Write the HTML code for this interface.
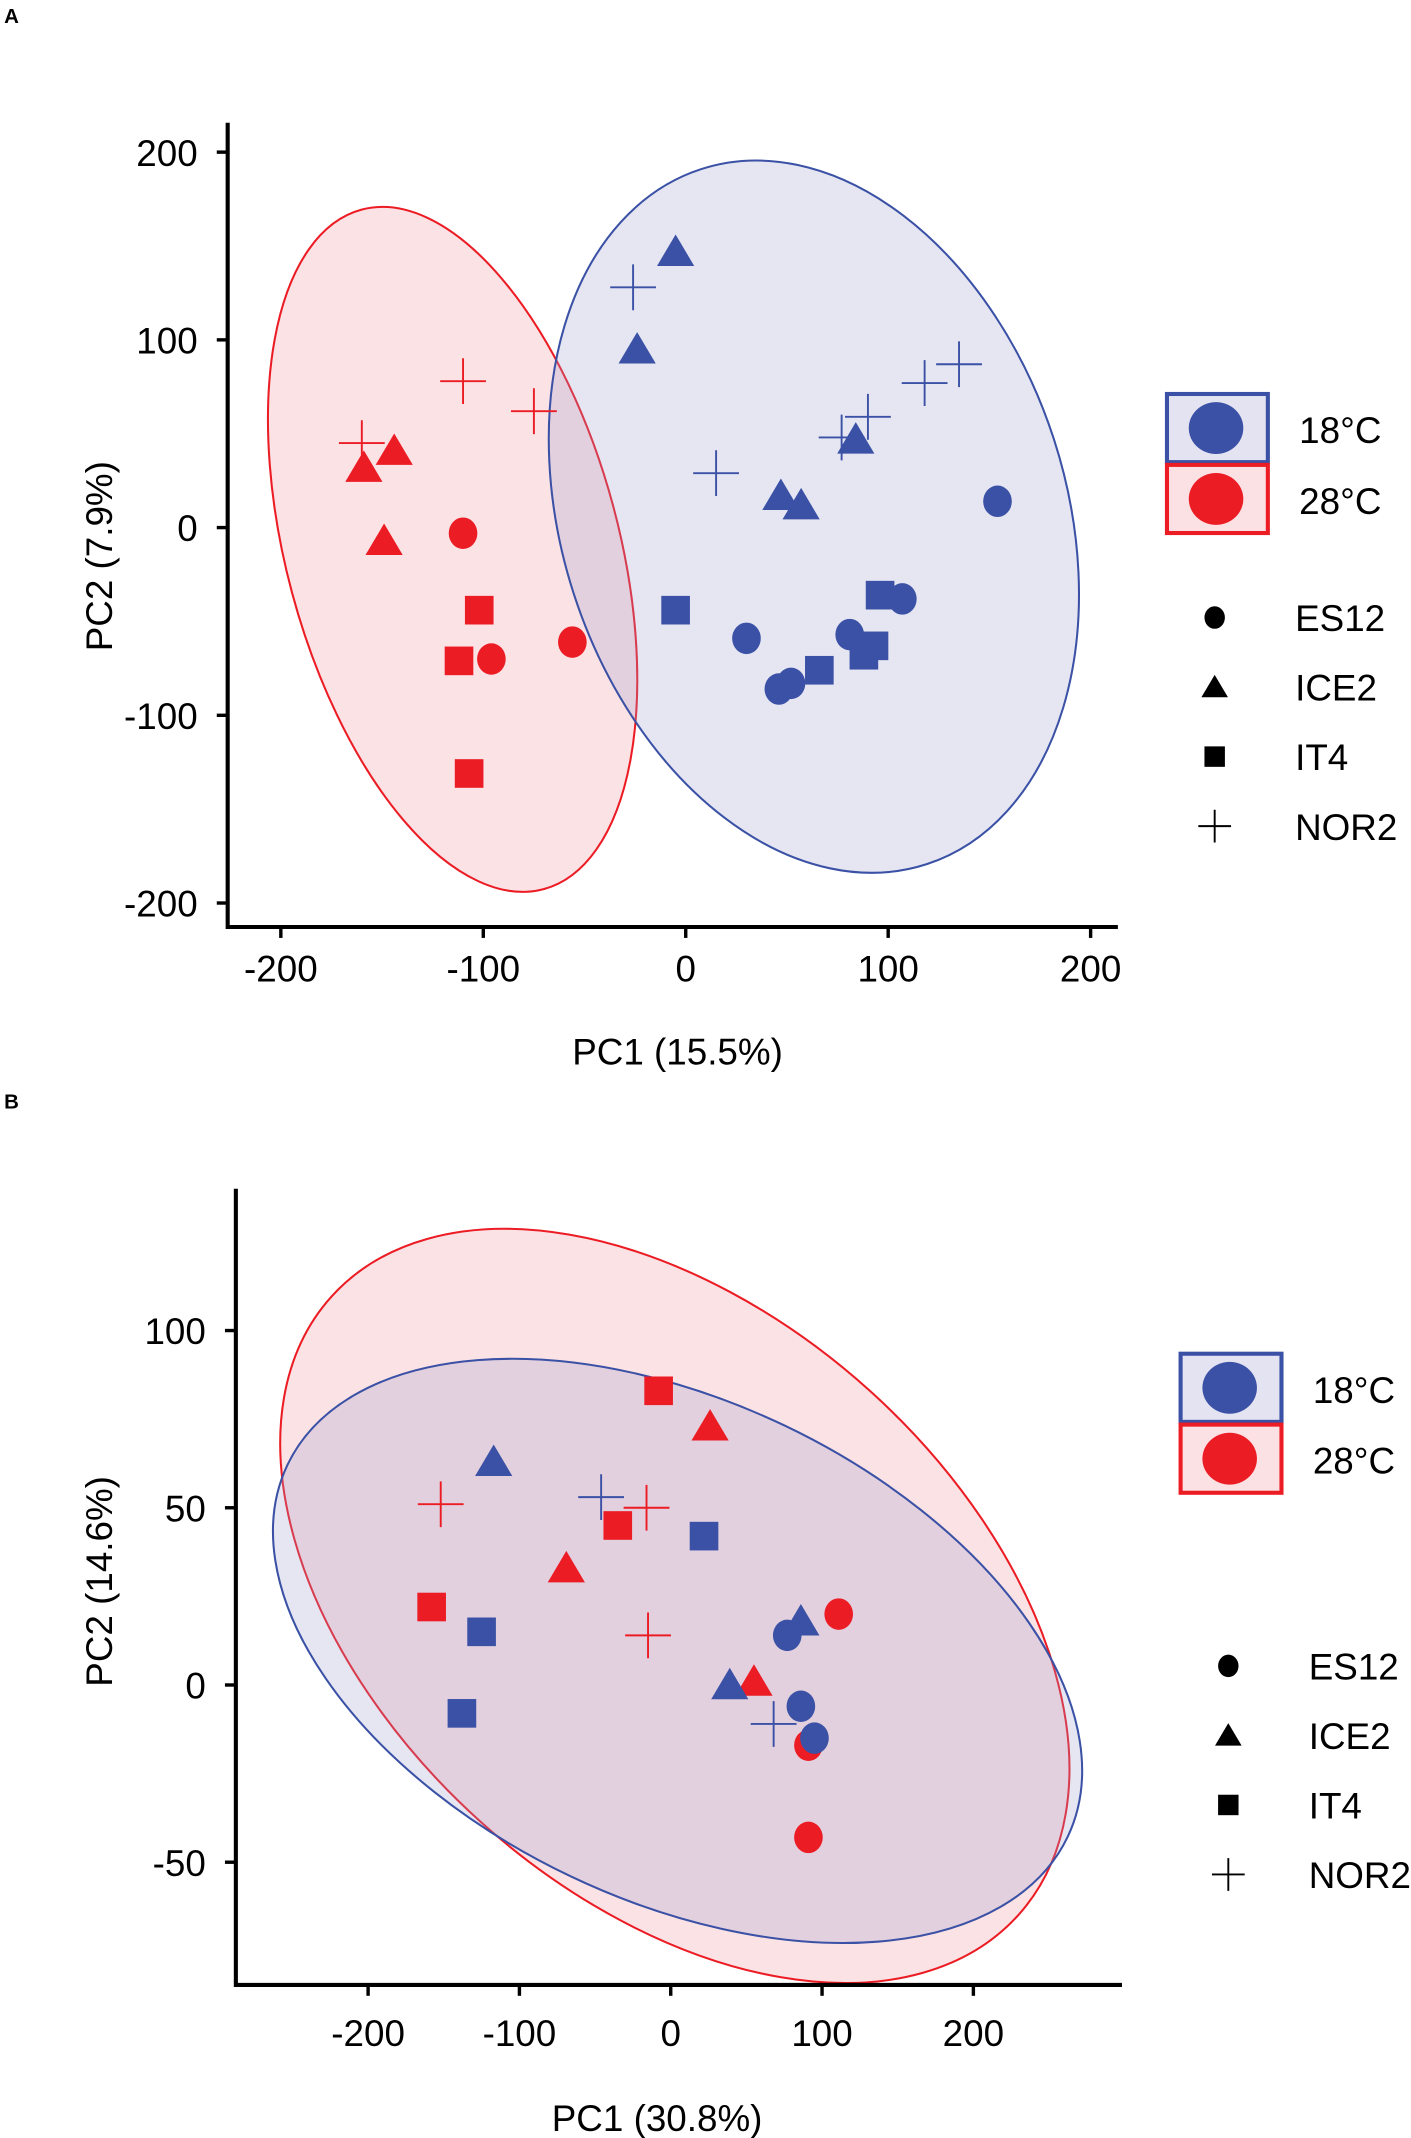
<!DOCTYPE html>
<html><head><meta charset="utf-8">
<style>
html,body{margin:0;padding:0;background:#fff;}
svg{display:block;font-family:"Liberation Sans",Arial,sans-serif;}
</style></head>
<body>
<svg id="fig" width="1411" height="2138" viewBox="0 0 1035 1568.3" xmlns="http://www.w3.org/2000/svg">
<g id="panelA"></g>
<g id="panelB"></g>
</svg>
<script>
// ---------- Panel A data ----------
const aXTicks = [-200,-100,0,100,200];
const aYTicks = [200,100,0,-100,-200];
const aRedES12x = [-110,-96,-56];       const aRedES12y = [-3,-70,-61];
const aRedIT4x  = [-102,-112,-107];     const aRedIT4y  = [-44,-71,-131];
const aRedICE2x = [-159,-144,-149];     const aRedICE2y = [32,41,-7];
const aRedNOR2x = [-160,-110,-75];      const aRedNOR2y = [45,78,62];
const aBlueES12x = [154,30,46,52,81,107];  const aBlueES12y = [14,-59,-86,-83,-57,-38];
const aBlueIT4x  = [-5,66,88,93,96];       const aBlueIT4y  = [-44,-76,-68,-63,-36];
const aBlueICE2x = [-5,-24,47,57,84];      const aBlueICE2y = [147,95,17,12,47];
const aBlueNOR2x = [-26,15,77,90,118,135]; const aBlueNOR2y = [128,29,48,59,77,87];
// ---------- Panel B data ----------
const bXTicks = [-200,-100,0,100,200];
const bYTicks = [100,50,0,-50];
const bRedES12x = [111,91,91];        const bRedES12y = [20,-17,-43];
const bRedIT4x  = [-8,-35,-158];      const bRedIT4y  = [83,45,22];
const bRedICE2x = [26,-69,55];        const bRedICE2y = [73,33,1];
const bRedNOR2x = [-152,-16,-15];     const bRedNOR2y = [51,50,14];
const bBlueES12x = [77,86,95];        const bBlueES12y = [14,-6,-15];
const bBlueIT4x  = [22,-125,-138];    const bBlueIT4y  = [42,15,-8];
const bBlueICE2x = [-117,86,39];      const bBlueICE2y = [63,18,0];
const bBlueNOR2x = [-46,68];          const bBlueNOR2y = [53,-11];

const NS="http://www.w3.org/2000/svg";
const BLUE="#3a51a5", RED="#ec1c24";
function mk(tag, attrs, parent){const e=document.createElementNS(NS,tag);for(const k in attrs)e.setAttribute(k,attrs[k]);parent.appendChild(e);return e;}
function txt(s, attrs, parent){const e=mk('text',attrs,parent);e.textContent=s;return e;}

function marker(g, shape, cx, cy, col, s){
  let e;
  if(shape==='circle'){e=mk('ellipse',{cx:cx,cy:cy,rx:10*s,ry:11*s,fill:col},g);}
  else if(shape==='square'){e=mk('rect',{x:cx-10*s,y:cy-10*s,width:20*s,height:20*s,fill:col},g);}
  else if(shape==='triangle'){e=mk('path',{d:`M${cx} ${cy-12*s} L${cx+13*s} ${cy+10*s} L${cx-13*s} ${cy+10*s}Z`,fill:col},g);}
  else {e=mk('path',{d:`M${cx-16*s} ${cy}H${cx+16*s}M${cx} ${cy-16*s}V${cy+16*s}`,stroke:col,'stroke-width':1.4,fill:'none'},g);}
  return e;
}

function panel(g, cfg){
  const X=v=>cfg.x0+v*cfg.xs, Y=v=>cfg.y0-v*cfg.ys;
  txt(cfg.letter,{x:3,y:cfg.letterY,'font-size':15,'font-weight':'bold'},g);
  cfg.ellipses.forEach(el=>{
    const e=mk('ellipse',{cx:el.cx,cy:el.cy,rx:el.rx,ry:el.ry,transform:`rotate(${el.rot} ${el.cx} ${el.cy})`,fill:el.fill,'fill-opacity':el.op,stroke:el.stroke,'stroke-width':1.5},g);
    
    
  });
  const ax=mk('path',{d:`M${cfg.axL} ${cfg.axTop}V${cfg.axBot}H${cfg.axR}`,stroke:'#000','stroke-width':3,fill:'none'},g);
  
  
  cfg.xt.forEach(t=>{
    mk('line',{x1:X(t),x2:X(t),y1:cfg.axBot,y2:cfg.axBot+8,stroke:'#000','stroke-width':2.5},g);
    const l=txt(String(t),{x:X(t),y:cfg.axBot+cfg.xtOff,'font-size':27,'text-anchor':'middle'},g);
    
    
  });
  cfg.yt.forEach(t=>{
    mk('line',{x1:cfg.axL-8,x2:cfg.axL,y1:Y(t),y2:Y(t),stroke:'#000','stroke-width':2.5},g);
    const l=txt(String(t),{x:cfg.axL-22,y:Y(t)+10,'font-size':27,'text-anchor':'end'},g);
    
    
  });
  const xl=txt(cfg.xlabel,{x:cfg.xlx,y:cfg.xly,'font-size':27,'text-anchor':'middle'},g);
  
  
  const yl=txt(cfg.ylabel,{x:0,y:0,'font-size':27,'text-anchor':'middle',transform:`translate(${cfg.ylx} ${cfg.yly}) rotate(-90)`},g);
  
  
  cfg.series.forEach(sr=>{
    sr.xs.forEach((v,i)=>{
      const m=marker(g,sr.shape,X(v),Y(sr.ys[i]),sr.col,1.05);
      
      
    });
  });
  const L=cfg.leg;
  [[BLUE,'#e4e3f1','18°C',0],[RED,'#fbe1e3','28°C',1]].forEach(([c,f,lab,i])=>{
    const yy=L.y+i*52;
    const r=mk('rect',{x:L.x,y:yy,width:74,height:50,fill:f,stroke:c,'stroke-width':3},g);
    
    
    mk('ellipse',{cx:L.x+36,cy:yy+25,rx:20,ry:19,fill:c},g);
    const t=txt(lab,{x:L.x+97,y:yy+36,'font-size':27},g);
    
    
  });
  [['circle','ES12'],['triangle','ICE2'],['square','IT4'],['plus','NOR2']].forEach(([s,lab],i)=>{
    const yy=L.sy+i*51;
    marker(g,s,L.x+35,yy,'#000',0.75);
    const t=txt(lab,{x:L.x+94,y:yy+10,'font-size':27},g);
    
    
  });
}

panel(document.getElementById('panelA'),{
  letter:'A',letterY:17,x0:503,xs:1.485,y0:387,ys:1.377,
  axL:167,axTop:90,axBot:680,axR:820,xt:aXTicks,yt:aYTicks,xtOff:40,
  xlabel:'PC1 (15.5%)',xlx:497,xly:781,ylabel:'PC2 (7.9%)',ylx:82,yly:408,
  ellipses:[
    {name:'ellipse-28c',cx:332,cy:403,rx:122,ry:258,rot:-15,fill:'#f4a6ad',op:0.32,stroke:RED},
    {name:'ellipse-18c',cx:597,cy:379,rx:185,ry:268,rot:-18,fill:'#9a9ad0',op:0.25,stroke:BLUE}],
  series:[
    {name:'point-28c-es12',shape:'circle',col:RED,xs:aRedES12x,ys:aRedES12y},
    {name:'point-28c-it4',shape:'square',col:RED,xs:aRedIT4x,ys:aRedIT4y},
    {name:'point-28c-ice2',shape:'triangle',col:RED,xs:aRedICE2x,ys:aRedICE2y},
    {name:'point-28c-nor2',shape:'plus',col:RED,xs:aRedNOR2x,ys:aRedNOR2y},
    {name:'point-18c-es12',shape:'circle',col:BLUE,xs:aBlueES12x,ys:aBlueES12y},
    {name:'point-18c-it4',shape:'square',col:BLUE,xs:aBlueIT4x,ys:aBlueIT4y},
    {name:'point-18c-ice2',shape:'triangle',col:BLUE,xs:aBlueICE2x,ys:aBlueICE2y},
    {name:'point-18c-nor2',shape:'plus',col:BLUE,xs:aBlueNOR2x,ys:aBlueNOR2y}],
  leg:{x:856,y:289,sy:453}
});
panel(document.getElementById('panelB'),{
  letter:'B',letterY:813,x0:492,xs:1.11,y0:1236,ys:2.6,
  axL:173,axTop:872,axBot:1456,axR:823,xt:bXTicks,yt:bYTicks,xtOff:45,
  xlabel:'PC1 (30.8%)',xlx:482,xly:1563,ylabel:'PC2 (14.6%)',ylx:82,yly:1160,
  ellipses:[
    {name:'ellipse-28c',cx:495,cy:1178,rx:339,ry:213,rot:42,fill:'#f4a6ad',op:0.32,stroke:RED},
    {name:'ellipse-18c',cx:497,cy:1211,rx:317,ry:183,rot:25.5,fill:'#9a9ad0',op:0.25,stroke:BLUE}],
  series:[
    {name:'point-28c-es12',shape:'circle',col:RED,xs:bRedES12x,ys:bRedES12y},
    {name:'point-28c-it4',shape:'square',col:RED,xs:bRedIT4x,ys:bRedIT4y},
    {name:'point-28c-ice2',shape:'triangle',col:RED,xs:bRedICE2x,ys:bRedICE2y},
    {name:'point-28c-nor2',shape:'plus',col:RED,xs:bRedNOR2x,ys:bRedNOR2y},
    {name:'point-18c-es12',shape:'circle',col:BLUE,xs:bBlueES12x,ys:bBlueES12y},
    {name:'point-18c-it4',shape:'square',col:BLUE,xs:bBlueIT4x,ys:bBlueIT4y},
    {name:'point-18c-ice2',shape:'triangle',col:BLUE,xs:bBlueICE2x,ys:bBlueICE2y},
    {name:'point-18c-nor2',shape:'plus',col:BLUE,xs:bBlueNOR2x,ys:bBlueNOR2y}],
  leg:{x:866,y:993,sy:1222}
});
</script>
</body></html>
